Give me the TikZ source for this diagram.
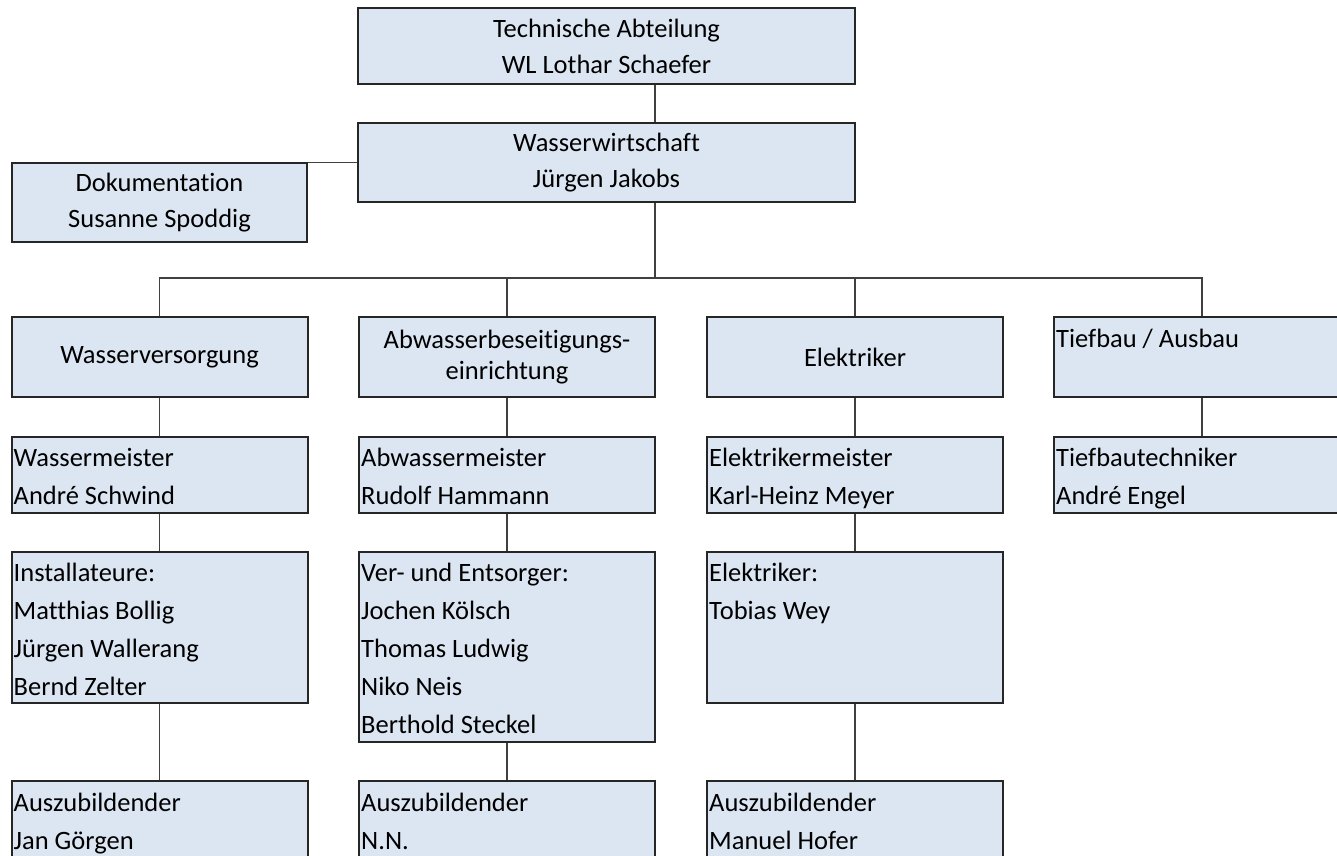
\documentclass[tikz,border=0pt]{standalone}
\usepackage{fontspec}
\setmainfont{Carlito}[Ligatures=CommonOff]
\usetikzlibrary{calc}
\definecolor{boxfill}{HTML}{DCE6F2}
\begin{document}
\begin{tikzpicture}[x=1pt,y=-1pt,
  orgbox/.style={draw=black!85, line width=2pt, fill=boxfill, rectangle, inner sep=0pt, minimum width=296pt},
  link/.style={draw=black!75, line width=1.2pt},
  ctext/.style={font=\fontsize{26.5}{36}\selectfont, align=flush center, inner sep=0pt},
  ltext/.style={font=\fontsize{26.5}{38}\selectfont, align=flush left, text width=290pt, inner sep=0pt, anchor=base west},
]
\useasboundingbox (0,0) rectangle (1337,855);
\clip (0,0) rectangle (1337,855);
% boxes
\node[orgbox, minimum width=497pt, minimum height=76pt] (tech) at (606.5,46) {};
\node[orgbox, minimum width=497pt, minimum height=79pt] (ww) at (606.5,162.5) {};
\node[orgbox, minimum width=295pt, minimum height=79pt] (doc) at (159.5,202.5) {};
\node[orgbox, minimum height=80pt] (wv) at (159.5,357) {};
\node[orgbox, minimum height=80pt] (ab) at (507,357) {};
\node[orgbox, minimum height=80pt] (el) at (855,357) {};
\node[orgbox, minimum height=80pt] (tb) at (1202,357) {};
\node[orgbox, minimum height=76pt] (wm) at (159.5,475) {};
\node[orgbox, minimum height=76pt] (am) at (507,475) {};
\node[orgbox, minimum height=76pt] (em) at (855,475) {};
\node[orgbox, minimum height=76pt] (tt) at (1202,475) {};
\node[orgbox, minimum height=151pt] (inst) at (159.5,627.5) {};
\node[orgbox, minimum height=190pt] (ve) at (507,647) {};
\node[orgbox, minimum height=151pt] (elk) at (855,627.5) {};
\node[orgbox, minimum height=94pt] (az1) at (159.5,828) {};
\node[orgbox, minimum height=94pt] (az2) at (507,828) {};
\node[orgbox, minimum height=94pt] (az3) at (855,828) {};
% texts
\node[ctext] (tech-t) at (tech.center) {Technische Abteilung\\WL Lothar Schaefer};
\node[ctext] (ww-t) at (ww.center) {Wasserwirtschaft\\Jürgen Jakobs};
\node[ctext] (doc-t) at (doc.center) {Dokumentation\\Susanne Spoddig};
\node[ctext] (wv-t) at (wv.center) {Wasserversorgung};
\node[ctext, font=\fontsize{26.5}{31}\selectfont] (ab-t) at (ab.center) {Abwasserbeseitigungs-\\einrichtung};
\node[ctext] (el-t) at (el.center) {Elektriker};
\node[ltext] (tb-t) at ($(tb.north west)+(3,31)$) {Tiefbau / Ausbau};
\node[ltext] (wm-t) at ($(wm.north west)+(3,30.5)$) {Wassermeister\\André Schwind};
\node[ltext] (am-t) at ($(am.north west)+(3,30.5)$) {Abwassermeister\\Rudolf Hammann};
\node[ltext] (em-t) at ($(em.north west)+(3,30.5)$) {Elektrikermeister\\Karl-Heinz Meyer};
\node[ltext] (tt-t) at ($(tt.north west)+(3,30.5)$) {Tiefbautechniker\\André Engel};
\node[ltext] (inst-t) at ($(inst.north west)+(3,30.5)$) {Installateure:\\Matthias Bollig\\Jürgen Wallerang\\Bernd Zelter};
\node[ltext] (ve-t) at ($(ve.north west)+(3,30.5)$) {Ver- und Entsorger:\\Jochen Kölsch\\Thomas Ludwig\\Niko Neis\\Berthold Steckel};
\node[ltext] (elk-t) at ($(elk.north west)+(3,30.5)$) {Elektriker:\\Tobias Wey};
\node[ltext] (az1-t) at ($(az1.north west)+(3,31)$) {Auszubildender\\Jan Görgen};
\node[ltext] (az2-t) at ($(az2.north west)+(3,31)$) {Auszubildender\\N.N.};
\node[ltext] (az3-t) at ($(az3.north west)+(3,31)$) {Auszubildender\\Manuel Hofer};
% connectors
\coordinate (bus) at (655,278);
\draw[link] (tech.south -| bus) -- (ww.north -| bus);
\draw[link] (ww.west) -- (ww.west -| doc.east);
\draw[link] (ww.south -| bus) -- (bus);
\draw[link] (wv.north) -- (wv.north |- bus) -- (tb.north |- bus) -- (tb.north);
\draw[link] (ab.north) -- (ab.north |- bus);
\draw[link] (el.north) -- (el.north |- bus);
\draw[link] (wv.south) -- (wm.north);
\draw[link] (ab.south) -- (am.north);
\draw[link] (el.south) -- (em.north);
\draw[link] (tb.south) -- (tt.north);
\draw[link] (wm.south) -- (inst.north);
\draw[link] (am.south) -- (ve.north);
\draw[link] (em.south) -- (elk.north);
\draw[link] (inst.south) -- (az1.north);
\draw[link] (ve.south) -- (az2.north);
\draw[link] (elk.south) -- (az3.north);
\end{tikzpicture}
\end{document}
